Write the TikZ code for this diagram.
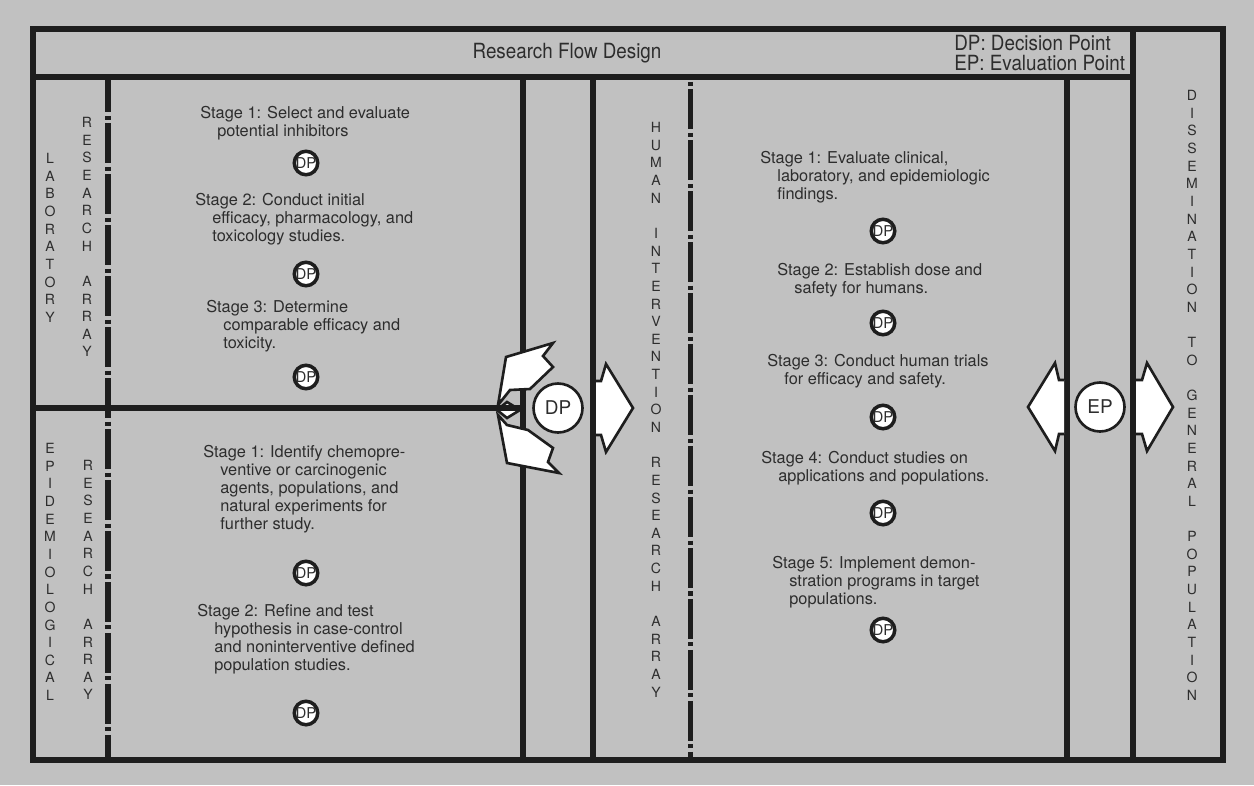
\documentclass[tikz,border=0pt]{standalone}
\usepackage{fontspec}
\setmainfont{TeX Gyre Heros}
\newfontfamily\narrowfont{TeX Gyre Heros}[FakeStretch=0.9]
\definecolor{paper}{RGB}{193,193,193}
\definecolor{ink}{RGB}{30,30,30}
\definecolor{txt}{RGB}{45,45,45}
\newcommand{\ind}{\hspace*{9.7pt}}

\begin{document}
\begin{tikzpicture}[x=0.02cm,y=-0.02cm,
  frame/.style={draw=ink,line width=3.4pt},
  arrayline/.style={draw=ink,line width=2.85pt,dash pattern=on 22.7pt off 2pt on 2.3pt off 2pt},
  stagetxt/.style={anchor=north west,inner sep=0pt,align=left,text=txt,font=\fontsize{9.3}{10.24}\selectfont},
  letters/.style={anchor=north,inner sep=0pt,align=center,text=txt,font=\fontsize{8}{10.04}\selectfont},
  dp/.style={circle,draw=ink,line width=2pt,fill=white,inner sep=0pt,minimum size=0.47cm,text=txt,font=\fontsize{8.5}{8.5}\selectfont},
  bigdp/.style={circle,draw=ink,line width=1.5pt,fill=white,inner sep=0pt,minimum size=0.98cm,text=txt,font=\fontsize{10.8}{10.8}\selectfont},
  blockarrow/.style={draw=ink,line width=1.5pt,fill=white}]
\fill[paper] (0,0) rectangle (1254,785);
\useasboundingbox (0,0) rectangle (1254,785);

% frame
\draw[frame] (33,29) rectangle (1223,760);
\draw[frame] (33,77) -- (1133,77);
\draw[frame] (1133,29) -- (1133,760);
\draw[frame] (1067,77) -- (1067,760);
\draw[frame] (593,77) -- (593,760);
\draw[frame] (523,77) -- (523,760);
\draw[arrayline,dash phase=4.27pt] (108,80) -- (108,758);
\draw[arrayline,dash phase=23.6pt] (690,80) -- (690,758);

% title band
\node[text=txt,font=\narrowfont\fontsize{11.9}{12}\selectfont] (title) at (567,53) {Research Flow Design};
\node[anchor=west,align=left,inner sep=0pt,text=txt,font=\narrowfont\fontsize{11.9}{11.4}\selectfont] (legend) at (954,53) {DP: Decision Point\\EP: Evaluation Point};

% array names
\node[letters] (labname) at (50,153) {L\\A\\B\\O\\R\\A\\T\\O\\R\\Y};
\node[letters] (labarray) at (87,117) {R\\E\\S\\E\\A\\R\\C\\H\\\mbox{}\\A\\R\\R\\A\\Y};
\node[letters] (epiname) at (50,443) {E\\P\\I\\D\\E\\M\\I\\O\\L\\O\\G\\I\\C\\A\\L};
\node[letters] (epiarray) at (88,460) {R\\E\\S\\E\\A\\R\\C\\H\\\mbox{}\\A\\R\\R\\A\\Y};
\node[letters] (humname) at (656,122) {H\\U\\M\\A\\N\\\mbox{}\\I\\N\\T\\E\\R\\V\\E\\N\\T\\I\\O\\N\\\mbox{}\\R\\E\\S\\E\\A\\R\\C\\H\\\mbox{}\\A\\R\\R\\A\\Y};
\node[letters] (disname) at (1192,90) {D\\I\\S\\S\\E\\M\\I\\N\\A\\T\\I\\O\\N\\\mbox{}\\T\\O\\\mbox{}\\G\\E\\N\\E\\R\\A\\L\\\mbox{}\\P\\O\\P\\U\\L\\A\\T\\I\\O\\N};

% laboratory stages
\node[stagetxt] (lab1) at (200,106) {Stage 1: Select and evaluate\\\ind potential inhibitors};
\node[dp] (lab1dp) at (306,163) {DP};
\node[stagetxt] (lab2) at (195,193) {Stage 2: Conduct initial\\\ind efficacy, pharmacology, and\\\ind toxicology studies.};
\node[dp] (lab2dp) at (306,274) {DP};
\node[stagetxt] (lab3) at (206,300) {Stage 3: Determine\\\ind comparable efficacy and\\\ind toxicity.};
\node[dp] (lab3dp) at (306,377) {DP};

% epidemiological stages
\node[stagetxt] (epi1) at (203,445) {Stage 1: Identify chemopre-\\\ind ventive or carcinogenic\\\ind agents, populations, and\\\ind natural experiments for\\\ind further study.};
\node[dp] (epi1dp) at (306,573) {DP};
\node[stagetxt] (epi2) at (197,604) {Stage 2: Refine and test\\\ind hypothesis in case-control\\\ind and noninterventive defined\\\ind population studies.};
\node[dp] (epi2dp) at (306,713) {DP};

% human intervention stages
\node[stagetxt] (hum1) at (760,151) {Stage 1: Evaluate clinical,\\\ind laboratory, and epidemiologic\\\ind findings.};
\node[dp] (hum1dp) at (883,231) {DP};
\node[stagetxt] (hum2) at (777,263) {Stage 2: Establish dose and\\\ind safety for humans.};
\node[dp] (hum2dp) at (883,323) {DP};
\node[stagetxt] (hum3) at (767,354) {Stage 3: Conduct human trials\\\ind for efficacy and safety.};
\node[dp] (hum3dp) at (883,417) {DP};
\node[stagetxt] (hum4) at (761,451) {Stage 4: Conduct studies on\\\ind applications and populations.};
\node[dp] (hum4dp) at (883,513) {DP};
\node[stagetxt] (hum5) at (772,556) {Stage 5: Implement demon-\\\ind stration programs in target\\\ind populations.};
\node[dp] (hum5dp) at (883,630) {DP};

% arrows round the main decision point
\draw[blockarrow] (498,405) -- (506,357) -- (553,343) -- (543,356) -- (553,367) -- (530,389) -- (510,390) -- cycle;
\draw[blockarrow] (498,415) -- (507,463) -- (559,473) -- (548,462) -- (553,448) -- (528,430) -- (507,425) -- cycle;
\draw[blockarrow] (497,410) -- (507,402) -- (520,410) -- (507,418) -- cycle;
\draw[frame] (33,408) -- (521,408);
\draw[blockarrow] (596,381) -- (601,381) -- (606,364) -- (633,408) -- (606,452) -- (601,435) -- (596,435);
\draw[blockarrow] (1064,380) -- (1059,380) -- (1055,363) -- (1028,407) -- (1055,451) -- (1059,434) -- (1064,434);
\draw[blockarrow] (1136,380) -- (1142,380) -- (1147,363) -- (1173,407) -- (1147,451) -- (1142,434) -- (1136,434);
\node[bigdp] (maindp) at (558,408) {DP};
\node[bigdp] (ep) at (1100,407) {EP};
\end{tikzpicture}
\end{document}
